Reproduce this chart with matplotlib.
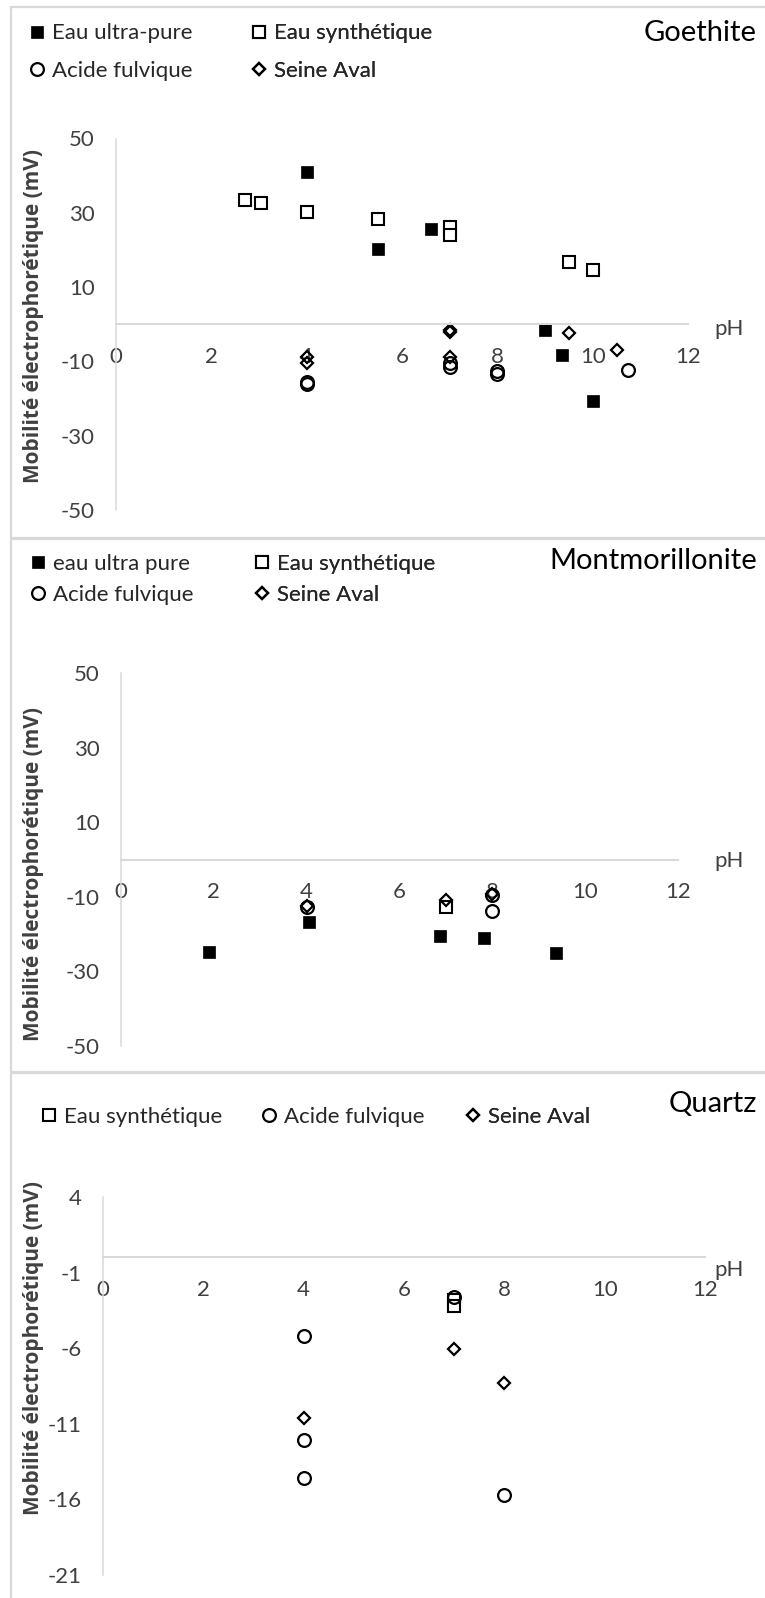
import numpy as np
import matplotlib
matplotlib.use("Agg")
import matplotlib.pyplot as plt
from matplotlib.patches import Rectangle

plt.rcParams["axes.unicode_minus"] = False

# -----------------------------
# data : Goethite
# -----------------------------
g_ultra_ph = [4.0, 5.5, 6.6, 9.0, 9.35, 10.0]
g_ultra_mob = [41.0, 20.2, 25.6, -1.5, -8.3, -20.7]
g_synth_ph = [2.7, 3.05, 4.0, 5.5, 7.0, 7.0, 9.5, 10.0]
g_synth_mob = [33.5, 32.6, 30.2, 28.4, 26.3, 24.1, 16.8, 14.5]
g_fulv_ph = [4.0, 4.0, 7.0, 7.0, 8.0, 8.0, 10.75]
g_fulv_mob = [-15.6, -16.2, -10.5, -11.6, -12.7, -13.3, -12.2]
g_seine_ph = [4.0, 4.0, 7.0, 7.0, 7.0, 9.5, 10.5]
g_seine_mob = [-8.8, -10.3, -1.6, -2.2, -8.9, -2.4, -7.0]

# -----------------------------
# data : Montmorillonite
# -----------------------------
m_ultra_ph = [1.9, 4.05, 6.87, 7.83, 9.37]
m_ultra_mob = [-24.8, -16.7, -20.4, -21.1, -25.0]
m_synth_ph = [7.0]
m_synth_mob = [-12.8]
m_fulv_ph = [4.0, 8.0, 8.0]
m_fulv_mob = [-12.8, -9.5, -13.7]
m_seine_ph = [4.0, 7.0, 8.0]
m_seine_mob = [-12.6, -10.9, -9.3]

# -----------------------------
# data : Quartz
# -----------------------------
q_synth_ph = [7.0, 7.0]
q_synth_mob = [-2.8, -3.2]
q_fulv_ph = [4.0, 4.0, 4.0, 7.0, 8.0]
q_fulv_mob = [-5.2, -12.1, -14.6, -2.6, -15.7]
q_seine_ph = [4.0, 7.0, 8.0]
q_seine_mob = [-10.6, -6.05, -8.3]

ph_ticks = [0, 2, 4, 6, 8, 10, 12]
ylabel = "Mobilité électrophorétique (mV)"

W, H = 765, 1598
fig = plt.figure(figsize=(W / 100, H / 100), dpi=100)

def fx(x):
    return x / W

def fy(y):
    return 1 - y / H

GRAY = "#d9d9d9"
TXT = "#404040"
FONT = ["Lato", "DejaVu Sans"]
FS = 16

# panel frames
for top, bot in [(7, 538), (539, 1072), (1073, 1610)]:
    fig.patches.append(Rectangle((fx(11), fy(bot)), fx(800) - fx(11), (bot - top) / H,
                                 transform=fig.transFigure, fill=False,
                                 edgecolor=GRAY, lw=1.6))

styles = {
    "ultra": dict(marker="s", ms=8.8, mfc="black", mec="black", mew=0.5),
    "synth": dict(marker="s", ms=8.6, mfc="white", mec="black", mew=1.5),
    "fulv": dict(marker="o", ms=9.2, mfc="none", mec="black", mew=1.6),
    "seine": dict(marker="D", ms=6.4, mfc="none", mec="black", mew=1.6),
}


def make_axes(left, right, top, bottom, ylim, yticks):
    ax = fig.add_axes([fx(left), fy(bottom), (right - left) / W, (bottom - top) / H])
    ax.set_xlim(0, 12)
    ax.set_ylim(*ylim)
    ax.set_xticks(ph_ticks)
    ax.set_yticks(yticks)
    ax.spines["top"].set_visible(False)
    ax.spines["right"].set_visible(False)
    ax.spines["left"].set_color(GRAY)
    ax.spines["left"].set_linewidth(1.1)
    ax.spines["bottom"].set_position(("data", 0))
    ax.spines["bottom"].set_color(GRAY)
    ax.spines["bottom"].set_linewidth(1.5)
    ax.tick_params(axis="both", length=0, labelsize=FS, labelcolor=TXT)
    ax.tick_params(axis="y", pad=15.5)
    ax.tick_params(axis="x", pad=16.5)
    for lab in ax.get_xticklabels() + ax.get_yticklabels():
        lab.set_family(FONT)
    ax.patch.set_alpha(0)
    return ax


def plot_series(ax, x, y, key, label):
    line, = ax.plot(x, y, linestyle="none", label=label, clip_on=False, **styles[key])
    return line


def legend_col(ax, handles, marker_x, y_center, gap):
    fs_px = FS * 100 / 72
    hl = 0.75
    leg = ax.legend(handles=handles, loc="center left",
                    bbox_to_anchor=(fx(marker_x - 0.5 * hl * fs_px), fy(y_center)),
                    bbox_transform=fig.transFigure, frameon=False, numpoints=1,
                    handlelength=hl, handletextpad=0.3, borderpad=0, borderaxespad=0,
                    labelspacing=(gap - 1.25 * fs_px) / fs_px,
                    prop={"family": FONT, "size": FS})
    for t in leg.get_texts():
        t.set_color("#262626")
    ax.add_artist(leg)


def titles(title, title_y, ph_y, ylab_y):
    fig.text(fx(757), fy(title_y), title, ha="right", va="center", fontsize=21,
             family=FONT, color="black")
    fig.text(fx(729), fy(ph_y), "pH", ha="center", va="center", fontsize=FS,
             family=FONT, color=TXT)
    fig.text(fx(34), fy(ylab_y), ylabel, ha="center", va="center", rotation=90,
             fontsize=15, fontweight="bold", family=["Open Sans", "DejaVu Sans"],
             color="#404040")


# -----------------------------
# Goethite
# -----------------------------
ax1 = make_axes(116, 688, 138.5, 510, (-50, 50), [-50, -30, -10, 10, 30, 50])
h_u = plot_series(ax1, g_ultra_ph, g_ultra_mob, "ultra", "Eau ultra-pure")
h_s = plot_series(ax1, g_synth_ph, g_synth_mob, "synth", "Eau synthétique")
h_f = plot_series(ax1, g_fulv_ph, g_fulv_mob, "fulv", "Acide fulvique")
h_d = plot_series(ax1, g_seine_ph, g_seine_mob, "seine", "Seine Aval")
legend_col(ax1, [h_u, h_f], 37, 52, 45)
legend_col(ax1, [h_s, h_d], 259, 52, 45)
titles("Goethite", 33, 329, 316)

# -----------------------------
# Montmorillonite
# -----------------------------
ax2 = make_axes(121, 678, 673, 1046, (-50, 50), [-50, -30, -10, 10, 30, 50])
h_u = plot_series(ax2, m_ultra_ph, m_ultra_mob, "ultra", "eau ultra pure")
h_s = plot_series(ax2, m_synth_ph, m_synth_mob, "synth", "Eau synthétique")
h_f = plot_series(ax2, m_fulv_ph, m_fulv_mob, "fulv", "Acide fulvique")
h_d = plot_series(ax2, m_seine_ph, m_seine_mob, "seine", "Seine Aval")
legend_col(ax2, [h_u, h_f], 38, 579.5, 39)
legend_col(ax2, [h_s, h_d], 262, 579.5, 39)
titles("Montmorillonite", 561, 861, 874)

# -----------------------------
# Quartz
# -----------------------------
ax3 = make_axes(103, 705, 1197, 1575, (-21, 4), [-21, -16, -11, -6, -1, 4])
h_s = plot_series(ax3, q_synth_ph, q_synth_mob, "synth", "Eau synthétique")
h_f = plot_series(ax3, q_fulv_ph, q_fulv_mob, "fulv", "Acide fulvique")
h_d = plot_series(ax3, q_seine_ph, q_seine_mob, "seine", "Seine Aval")
legend_col(ax3, [h_s], 49, 1117, 40)
legend_col(ax3, [h_f], 269, 1117, 40)
legend_col(ax3, [h_d], 473, 1117, 40)
titles("Quartz", 1104, 1270, 1348)

fig.savefig("out.png", dpi=100)
